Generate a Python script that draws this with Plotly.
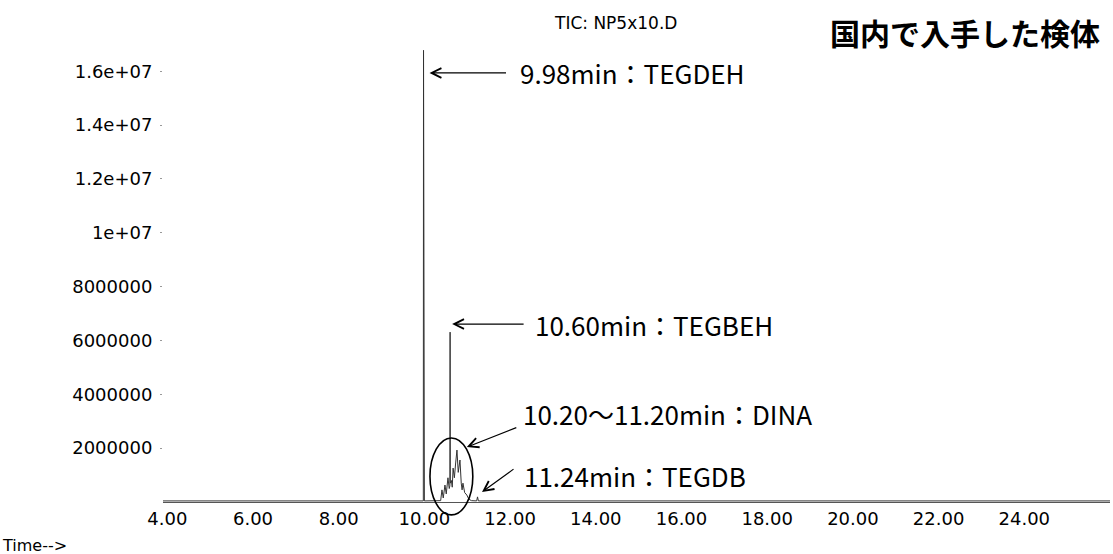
import plotly.graph_objects as go

# ---- data (time in min, abundance) ----
time_min = [3.90, 9.96, 9.975, 9.98, 9.985, 10.00, 10.38, 10.41, 10.44, 10.46, 10.48, 10.51,
            10.53, 10.55, 10.58, 10.595, 10.60, 10.605, 10.63, 10.65, 10.67, 10.70, 10.73,
            10.76, 10.79, 10.81, 10.83, 10.86, 10.88, 10.90, 10.94, 10.99, 11.04, 11.10,
            11.22, 11.24, 11.26, 26.00]
abundance = [0.04e6, 0.04e6, 0.04e6, 16.78e6, 0.04e6, 0.04e6, 0.05e6, 0.45e6, 0.15e6, 0.35e6,
             0.63e6, 0.30e6, 0.55e6, 0.90e6, 0.50e6, 0.60e6, 6.31e6, 0.70e6, 0.80e6, 0.55e6,
             1.26e6, 0.90e6, 1.45e6, 1.93e6, 1.10e6, 1.30e6, 1.56e6, 0.70e6, 0.45e6, 0.70e6,
             0.35e6, 0.26e6, 0.10e6, 0.05e6, 0.04e6, 0.19e6, 0.04e6, 0.04e6]

x_tick_vals = [4, 6, 8, 10, 12, 14, 16, 18, 20, 22, 24]
x_tick_text = ["4.00", "6.00", "8.00", "10.00", "12.00", "14.00", "16.00", "18.00",
               "20.00", "22.00", "24.00"]
y_tick_vals = [2e6, 4e6, 6e6, 8e6, 1e7, 1.2e7, 1.4e7, 1.6e7]
y_tick_text = ["2000000", "4000000", "6000000", "8000000", "1e+07", "1.2e+07",
               "1.4e+07", "1.6e+07"]

peak_labels = ["9.98min：TEGDEH", "10.60min：TEGBEH", "10.20～11.20min：DINA", "11.24min：TEGDB"]
peak_times = [9.98, 10.60, 10.99, 11.24]
peak_levels = [15.94e6, 6.61e6, 2.04e6, 0.37e6]

# DINA region (ellipse) in data units
dina_t0, dina_t1 = 10.13, 11.13
dina_a0, dina_a1 = -0.48e6, 2.38e6

title_text = "国内で入手した検体"
tic_text = "TIC: NP5x10.D"
x_title = "Time-->"

X_RANGE = [3.9, 26.0]
Y_RANGE = [0, 17.2e6]

fig = go.Figure()
fig.add_trace(go.Scatter(x=time_min, y=abundance, mode="lines",
                         line=dict(color="#333333", width=1), hoverinfo="skip",
                         showlegend=False))

LABEL_FONT = dict(family="Noto Sans CJK JP", size=26, color="#000000")
# arrow geometry (pixel offsets): (xshift, ax, ay, text_xshift, text_yshift)
geom = [(6, 78, 0, 94, 0), (2, 73, 0, 83, 0), (0, 51, -20, 54, 34), (4.5, 33, -24, 44.5, 17)]
for lab, t, lv, (xs, ax, ay, txs, tys) in zip(peak_labels, peak_times, peak_levels, geom):
    fig.add_annotation(x=t, y=lv, xref="x", yref="y", text="", showarrow=True,
                       ax=ax, ay=ay, xshift=xs, arrowhead=5, arrowsize=1.6,
                       arrowwidth=1.2, arrowcolor="#000000", standoff=0, startstandoff=0)
    fig.add_annotation(x=t, y=lv, xref="x", yref="y", text=lab, showarrow=False,
                       xanchor="left", yanchor="middle", xshift=txs, yshift=tys,
                       font=LABEL_FONT)

def xp(t):
    return (t - X_RANGE[0]) / (X_RANGE[1] - X_RANGE[0])

def yp(a):
    return (a - Y_RANGE[0]) / (Y_RANGE[1] - Y_RANGE[0])

fig.add_shape(type="circle", xref="paper", yref="paper",
              x0=xp(dina_t0), x1=xp(dina_t1), y0=yp(dina_a0), y1=yp(dina_a1),
              line=dict(color="#000000", width=1.6))

fig.add_annotation(x=0.4108, y=1.0346, xref="paper", yref="paper", text=tic_text,
                   showarrow=False, xanchor="left", yanchor="middle",
                   font=dict(family="DejaVu Sans", size=17, color="#000000"))
fig.add_annotation(x=0.7022, y=1.0151, xref="paper", yref="paper", text="<b>" + title_text + "</b>",
                   showarrow=False, xanchor="left", yanchor="middle",
                   font=dict(family="Noto Sans CJK JP", size=30, color="#000000"))
fig.add_annotation(x=-0.1721, y=-0.0929, xref="paper", yref="paper", text=x_title,
                   showarrow=False, xanchor="left", yanchor="middle",
                   font=dict(family="DejaVu Sans", size=16, color="#000000"))

fig.update_layout(
    width=1113, height=554,
    margin=dict(l=163, r=3, t=39, b=52),
    paper_bgcolor="#ffffff", plot_bgcolor="#ffffff",
    showlegend=False,
    xaxis=dict(range=X_RANGE, tickvals=x_tick_vals, ticktext=x_tick_text,
               showgrid=False, zeroline=False, showline=True, linecolor="#555555",
               linewidth=1, ticks="", ticklabelstandoff=0,
               tickfont=dict(family="DejaVu Sans", size=18, color="#000000")),
    yaxis=dict(range=Y_RANGE, tickvals=y_tick_vals, ticktext=y_tick_text,
               showgrid=False, zeroline=False, showline=False, ticks="outside",
               ticklen=2, tickcolor="#999999", ticklabelstandoff=4,
               tickfont=dict(family="DejaVu Sans", size=18, color="#000000")),
)

fig.write_html("out.html")
